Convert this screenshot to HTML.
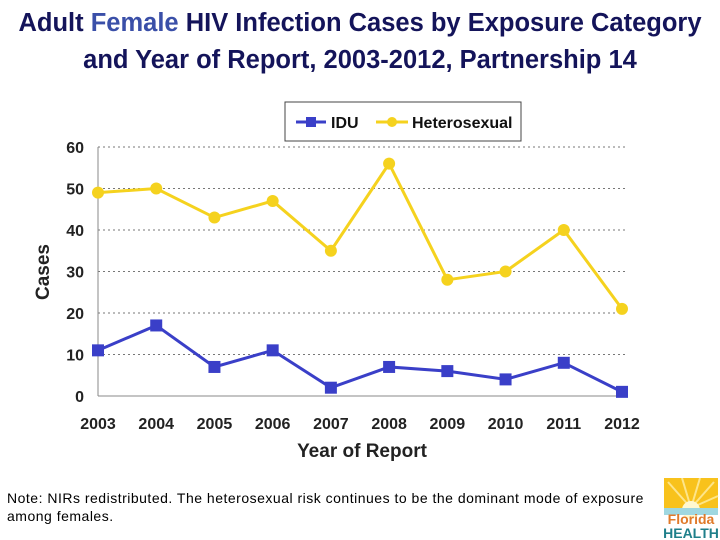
<!DOCTYPE html>
<html><head><meta charset="utf-8"><style>
body{margin:0;width:720px;height:540px;background:#fff;overflow:hidden;font-family:"Liberation Sans",sans-serif;position:relative}
.t{position:absolute;left:0;width:720px;text-align:center;font-size:25.5px;font-weight:bold;color:#14145a;white-space:nowrap}
.note{position:absolute;left:7px;top:489px;font-size:14px;letter-spacing:0.5px;color:#000;line-height:18px}
</style></head><body>
<div class="t" style="top:9px">Adult <span style="color:#3a4fa8">Female</span> HIV Infection Cases by Exposure Category</div>
<div class="t" style="top:46px">and Year of Report,  2003-2012, Partnership 14</div>
<svg id="chart" width="720" height="540" style="position:absolute;left:0;top:0"></svg>
<div class="note">Note: NIRs redistributed.  The heterosexual risk continues to be the dominant mode of exposure<br>among females.</div>
<svg width="60" height="62" style="position:absolute;left:662px;top:478px">
<rect x="2" y="0" width="54" height="34" fill="#f8c21c"/>
<g stroke="#fde58a" stroke-width="2">
<line x1="29" y1="30" x2="6" y2="4"/><line x1="29" y1="30" x2="20" y2="0"/><line x1="29" y1="30" x2="38" y2="0"/><line x1="29" y1="30" x2="52" y2="4"/><line x1="29" y1="30" x2="56" y2="18"/></g>
<circle cx="29" cy="32" r="9" fill="#fff8d0"/>
<rect x="2" y="30" width="54" height="7" fill="#9fd7e0"/>
<text x="29" y="46" text-anchor="middle" font-size="14" font-weight="bold" fill="#e07a2a" font-family="Liberation Sans">Florida</text>
<text x="29" y="60" text-anchor="middle" font-size="14" font-weight="bold" fill="#1f7f8a" font-family="Liberation Sans">HEALTH</text>
</svg>
<script>
const years=["2003","2004","2005","2006","2007","2008","2009","2010","2011","2012"];
const idu=[11,17,7,11,2,7,6,4,8,1];
const hetero=[49,50,43,47,35,56,28,30,40,21];
const yTicks=[0,10,20,30,40,50,60];
const svg=document.getElementById('chart');
const NS='http://www.w3.org/2000/svg';
const x0=98,x1=622,yb=396,yt=147,ymax=60;
const X=i=>x0+(x1-x0)*i/(years.length-1);
const Y=v=>yb-(yb-yt)*v/ymax;
function mk(t,a,p){const e=document.createElementNS(NS,t);for(const k in a)e.setAttribute(k,a[k]);(p||svg).appendChild(e);return e;}
yTicks.forEach(v=>{
 if(v>0){const g=mk('line',{x1:x0,x2:626,y1:Y(v),y2:Y(v),stroke:'#777','stroke-dasharray':'2,3','stroke-width':1});
 
 }
 const t=mk('text',{x:84,y:Y(v)+6,'text-anchor':'end','font-size':16,'font-weight':'bold',fill:'#222'});
 t.textContent=v;
 
 
});
const ax=mk('line',{x1:x0,x2:x0,y1:yt,y2:yb,stroke:'#888','stroke-width':1});


const bx=mk('line',{x1:x0,x2:626,y1:yb,y2:yb,stroke:'#888','stroke-width':1});


years.forEach((y,i)=>{
 const t=mk('text',{x:X(i),y:429,'text-anchor':'middle','font-size':16,'font-weight':'bold',fill:'#222'});
 t.textContent=y;
 
 
});
const xt=mk('text',{x:362,y:457,'text-anchor':'middle','font-size':19,'font-weight':'bold',fill:'#222'});
xt.textContent='Year of Report';


const yti=mk('text',{x:49,y:272,'text-anchor':'middle','font-size':19,'font-weight':'bold',fill:'#222',transform:'rotate(-90 49 272)'});
yti.textContent='Cases';


function series(data,col,sq,name){
 const pl=mk('polyline',{points:data.map((v,i)=>X(i)+','+Y(v)).join(' '),fill:'none',stroke:col,'stroke-width':3});
 
 
 data.forEach((v,i)=>{
  const m=sq?mk('rect',{x:X(i)-6,y:Y(v)-6,width:12,height:12,fill:col}):mk('circle',{cx:X(i),cy:Y(v),r:6,fill:col});
  
  
 });
}
series(hetero,'#f5d21e',false,'heterosexual');
series(idu,'#3a3fc8',true,'idu');
const lg=mk('g',{});


mk('rect',{x:285,y:102,width:236,height:39,fill:'#fff',stroke:'#444','stroke-width':1},lg);
mk('line',{x1:296,x2:326,y1:122,y2:122,stroke:'#3a3fc8','stroke-width':3},lg);
mk('rect',{x:306,y:117,width:10,height:10,fill:'#3a3fc8'},lg);
const l1=mk('text',{x:331,y:128,'font-size':16,'font-weight':'bold',fill:'#111'},lg);l1.textContent='IDU';
mk('line',{x1:376,x2:408,y1:122,y2:122,stroke:'#f5d21e','stroke-width':3},lg);
mk('circle',{cx:392,cy:122,r:5,fill:'#f5d21e'},lg);
const l2=mk('text',{x:412,y:128,'font-size':16,'font-weight':'bold',fill:'#111'},lg);l2.textContent='Heterosexual';
</script>
</body></html>
